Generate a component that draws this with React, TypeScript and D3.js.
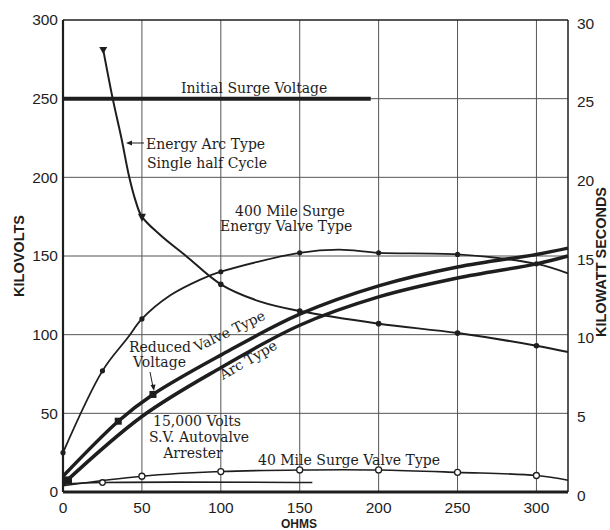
import React from "react";
import * as d3 from "d3";

type P = [number, number];

const xTicks = [0, 50, 100, 150, 200, 250, 300];
const yTicks = [0, 50, 100, 150, 200, 250, 300];
const y2Ticks = [0, 5, 10, 15, 20, 25, 30];

const initialSurge: P[] = [[0, 250], [195, 250]];
const energyArc: P[] = [
  [25.5, 281], [31.5, 250], [37, 225], [42, 200], [46, 185], [50, 175], [62, 163],
  [78, 150], [100, 132], [125, 121], [150, 115], [200, 107], [250, 101], [300, 93], [320, 89],
];
const energyArcMarks: P[] = [[100, 132], [150, 115], [200, 107], [250, 101], [300, 93]];
const mile400: P[] = [
  [0, 25], [25, 77], [41, 98], [50, 110], [68, 125], [87, 135], [100, 140], [150, 152],
  [175, 154], [200, 152], [250, 151], [300, 145], [320, 139],
];
const mile400Marks: P[] = [[0, 25], [25, 77], [50, 110], [100, 140], [150, 152], [200, 152], [250, 151], [300, 145]];
const valveType: P[] = [
  [0, 10], [35, 45], [57, 62], [100, 87], [150, 113], [200, 131], [250, 143], [300, 151], [320, 155],
];
const valveMarks: P[] = [[35, 45], [57, 62]];
const arcType: P[] = [
  [0, 5], [50, 48], [100, 79], [150, 106], [200, 124], [250, 136], [300, 145], [320, 150],
];
const mile40: P[] = [
  [0, 4], [50, 10], [100, 13], [150, 14], [200, 14], [250, 12.5], [300, 10.5], [320, 7.5],
];
const mile40Marks: P[] = [[50, 10], [100, 13], [150, 14], [200, 14], [250, 12.5], [300, 10.5]];
const arrester: P[] = [[0, 5], [25, 6], [158, 6]];
const arresterMarks: P[] = [[25, 6]];

const W = 610;
const H = 530;
const x = d3.scaleLinear().domain([0, 320]).range([63, 568]);
const y = d3.scaleLinear().domain([0, 300]).range([492, 20]);
const y2 = d3.scaleLinear().domain([0, 30]).range([492, 20]);

const line = d3
  .line<P>()
  .x((d) => x(d[0]))
  .y((d) => y(d[1]))
  .curve(d3.curveCatmullRom.alpha(0.5));

const ink = "#1e1e1e";
const grid = "#555";
const serif = "'DejaVu Serif', 'Liberation Serif', serif";
const sans = "'Liberation Sans', Arial, sans-serif";

export default function App() {
  return (
    <svg
      width={W}
      height={H}
      style={{ position: "absolute", left: 0, top: 0, background: "#fff" }}
    >
      {/* grid */}
      {xTicks.slice(1).map((t) => (
        <line key={"gx" + t} x1={x(t)} x2={x(t)} y1={y(300)} y2={y(0)} stroke={grid} strokeWidth={1} />
      ))}
      {yTicks.slice(1, -1).map((t) => (
        <line key={"gy" + t} x1={x(0)} x2={x(320)} y1={y(t)} y2={y(t)} stroke={grid} strokeWidth={1} />
      ))}
      {/* frame */}
      <line x1={x(0)} x2={x(320)} y1={y(300)} y2={y(300)} stroke={ink} strokeWidth={1.5} />
      <line x1={x(320)} x2={x(320)} y1={y(300)} y2={y(0)} stroke={ink} strokeWidth={1.5} />
      <line x1={x(0)} x2={x(0)} y1={y(300)} y2={y(0)} stroke={ink} strokeWidth={2.2} />
      <line x1={x(0)} x2={x(320)} y1={y(0)} y2={y(0)} stroke={ink} strokeWidth={3} />

      {/* tick labels */}
      {yTicks.map((t) => (
        <text key={"ly" + t} x={58} y={y(t)} dy="0.35em" textAnchor="end" fontFamily={sans} fontSize={15.5} fill={ink}>
          {t}
        </text>
      ))}
      {y2Ticks.map((t) => (
        <text key={"ly2" + t} x={577} y={y2(t)} dy="0.55em" textAnchor="start" fontFamily={sans} fontSize={15.5} fill={ink}>
          {t}
        </text>
      ))}
      {xTicks.map((t) => (
        <text key={"lx" + t} x={x(t)} y={513} textAnchor="middle" fontFamily={sans} fontSize={15.5} fill={ink}>
          {t}
        </text>
      ))}
      <text x={299} y={528} textAnchor="middle" fontFamily={sans} fontSize={13.5} fontWeight="bold" fill={ink}
        textLength={36} lengthAdjust="spacingAndGlyphs">
        OHMS
      </text>
      <text
        transform={`translate(24,256) rotate(-90)`}
        textAnchor="middle"
        fontFamily={sans}
        fontSize={14}
        fontWeight="bold"
        fill={ink}
        textLength={82}
        lengthAdjust="spacingAndGlyphs"
      >
        KILOVOLTS
      </text>
      <text
        transform={`translate(606,262) rotate(-90)`}
        textAnchor="middle"
        fontFamily={sans}
        fontSize={14}
        fontWeight="bold"
        fill={ink}
        textLength={150}
        lengthAdjust="spacingAndGlyphs"
      >
        KILOWATT SECONDS
      </text>

      {/* curves */}
      <path d={line(initialSurge) || ""} fill="none" stroke={ink} strokeWidth={4} />
      <path d={line(energyArc) || ""} fill="none" stroke={ink} strokeWidth={2} />
      <path d={line(mile400) || ""} fill="none" stroke={ink} strokeWidth={1.8} />
      <path d={line(valveType) || ""} fill="none" stroke={ink} strokeWidth={3.5} />
      <path d={line(arcType) || ""} fill="none" stroke={ink} strokeWidth={3.5} />
      <path d={line(mile40) || ""} fill="none" stroke={ink} strokeWidth={1.6} />
      <path d={line(arrester) || ""} fill="none" stroke={ink} strokeWidth={1.6} />

      {/* markers */}
      <path
        d={`M${x(energyArc[0][0]) - 4},${y(energyArc[0][1]) - 3} L${x(energyArc[0][0]) + 4},${y(energyArc[0][1]) - 3} L${x(energyArc[0][0])},${y(energyArc[0][1]) + 4} Z`}
        fill={ink}
      />
      <path
        d={`M${x(50) - 4},${y(175) - 3} L${x(50) + 4},${y(175) - 3} L${x(50)},${y(175) + 5} Z`}
        fill={ink}
      />
      {energyArcMarks.map((d, i) => (
        <circle key={"ea" + i} cx={x(d[0])} cy={y(d[1])} r={2.8} fill={ink} />
      ))}
      {mile400Marks.map((d, i) => (
        <circle key={"m4" + i} cx={x(d[0])} cy={y(d[1])} r={2.6} fill={ink} />
      ))}
      {valveMarks.map((d, i) => (
        <rect key={"vm" + i} x={x(d[0]) - 3.5} y={y(d[1]) - 3.5} width={7} height={7} fill={ink} />
      ))}
      <rect x={x(0) + 1} y={y(8) - 3} width={8} height={7} fill={ink} />
      {mile40Marks.map((d, i) => (
        <circle key={"m40" + i} cx={x(d[0])} cy={y(d[1])} r={3} fill="#fff" stroke={ink} strokeWidth={1.3} />
      ))}
      {arresterMarks.map((d, i) => (
        <circle key={"am" + i} cx={x(d[0])} cy={y(d[1])} r={2.8} fill="#fff" stroke={ink} strokeWidth={1.3} />
      ))}

      {/* annotations */}
      <g fontFamily={serif} fontSize={14} fill={ink}>
        <text x={181} y={93}>Initial Surge Voltage</text>
        <text x={146} y={149}>Energy Arc Type</text>
        <text x={147} y={168}>Single half Cycle</text>
        <text x={235} y={216}>400 Mile Surge</text>
        <text x={220} y={231}>Energy Valve Type</text>
        <text x={129} y={352}>Reduced</text>
        <text x={133} y={367}>Voltage</text>
        <text transform="translate(197,352) rotate(-25.6)">Valve Type</text>
        <text transform="translate(223,380) rotate(-30)">Arc Type</text>
        <text x={197} y={426} textAnchor="middle">15,000 Volts</text>
        <text x={199} y={442} textAnchor="middle">S.V. Autovalve</text>
        <text x={193} y={458} textAnchor="middle">Arrester</text>
        <text x={258} y={465}>40 Mile Surge Valve Type</text>
      </g>
      {/* leaders */}
      <line x1={144} y1={143} x2={130} y2={143} stroke={ink} strokeWidth={1} />
      <path d="M126,143 L132,140.5 L132,145.5 Z" fill={ink} />
      <line x1={150} y1={372} x2={153} y2={387} stroke={ink} strokeWidth={1} />
      <path d="M154,391 L150.5,385 L155.5,384.5 Z" fill={ink} />
    </svg>
  );
}
